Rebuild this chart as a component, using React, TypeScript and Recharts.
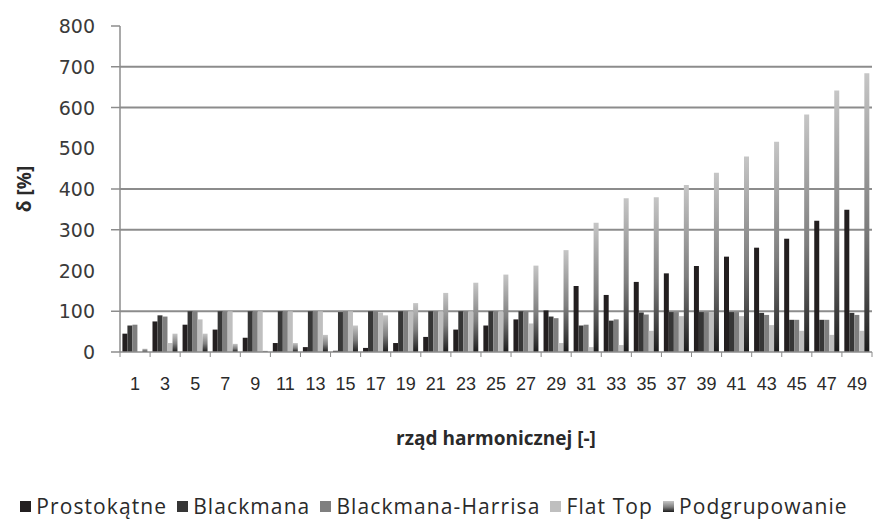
import React from 'react';
import { BarChart, Bar, XAxis, YAxis, CartesianGrid, Legend, Label } from 'recharts';

const harmonics = ['1', '3', '5', '7', '9', '11', '13', '15', '17', '19', '21', '23', '25', '27', '29', '31', '33', '35', '37', '39', '41', '43', '45', '47', '49'];
const prostokatne = [45, 75, 67, 55, 35, 22, 12, 3, 10, 22, 37, 55, 65, 80, 102, 162, 140, 172, 193, 211, 234, 256, 278, 322, 349];
const blackmana = [65, 90, 100, 100, 100, 100, 100, 98, 100, 100, 100, 100, 100, 100, 87, 65, 77, 97, 98, 98, 98, 96, 79, 79, 96];
const blackmanaHarrisa = [67, 87, 100, 100, 100, 100, 100, 100, 100, 100, 100, 100, 100, 100, 83, 67, 80, 92, 98, 98, 98, 91, 79, 79, 91];
const flatTop = [0, 22, 80, 100, 100, 100, 100, 100, 97, 100, 100, 100, 100, 70, 22, 12, 17, 52, 88, 98, 88, 66, 52, 42, 52];
const podgrupowanie = [8, 45, 45, 20, 3, 22, 42, 65, 90, 120, 145, 170, 190, 212, 250, 317, 377, 380, 410, 440, 480, 516, 583, 642, 684];

const seriesNames = ['Prostokątne', 'Blackmana', 'Blackmana-Harrisa', 'Flat Top', 'Podgrupowanie'];
const seriesKeys = ['p', 'b', 'bh', 'ft', 'pg'];
const seriesColors = ['#231f20', '#363636', '#7f7f7f', '#bfbfbf', 'url(#podGrad)'];
const yTicks = [0, 100, 200, 300, 400, 500, 600, 700, 800];
const gridValues = [100, 300, 400, 600, 700];
const yTickMarkValues = [0, 100, 300, 400, 600, 700, 800];

const data = harmonics.map((h, i) => ({
  h,
  p: prostokatne[i],
  b: blackmana[i],
  bh: blackmanaHarrisa[i],
  ft: flatTop[i],
  pg: podgrupowanie[i],
}));

const AXIS = '#8c8c8c';
const HALF_BAND = 15.04;

const YTick = (props: any) => {
  const { x, y, payload } = props;
  const showMark = yTickMarkValues.includes(payload.value);
  return (
    <g>
      {showMark && <line x1={x + 16} x2={x + 25} y1={y} y2={y} stroke={AXIS} strokeWidth={1.5} />}
      <text x={x} y={y} dy={7} textAnchor="end" fontFamily="DejaVu Sans" fontSize={19} fill="#3a3a3a">
        {payload.value}
      </text>
    </g>
  );
};

const XTick = (props: any) => {
  const { x, y, payload, index } = props;
  return (
    <g>
      <line x1={x - HALF_BAND} x2={x - HALF_BAND} y1={y} y2={y + 5} stroke={AXIS} strokeWidth={1} />
      {index === harmonics.length - 1 && (
        <line x1={x + HALF_BAND} x2={x + HALF_BAND} y1={y} y2={y + 5} stroke={AXIS} strokeWidth={1} />
      )}
      <text x={x} y={y} dy={38} textAnchor="middle" fontFamily="Liberation Sans" fontSize={18} fill="#2a2a2a">
        {payload.value}
      </text>
    </g>
  );
};

const YLabel = (props: any) => {
  const vb = props.viewBox || { y: 26, height: 326 };
  const cy = vb.y + vb.height / 2;
  return (
    <text x={31} y={cy} transform={`rotate(-90, 31, ${cy})`} textAnchor="middle" fontFamily="Open Sans" fontWeight="bold" fontSize={19} fill="#2a2a2a">
      δ [%]
    </text>
  );
};

const renderLegend = () => (
  <div style={{ display: 'flex', justifyContent: 'center', alignItems: 'flex-end', height: 40, paddingLeft: 6 }}>
    {seriesNames.map((name, i) => (
      <div key={name} style={{ display: 'flex', alignItems: 'center', marginRight: 10 }}>
        <svg width={11} height={11} style={{ marginRight: 5 }}>
          <rect x={0} y={0} width={11} height={11} fill={seriesColors[i]} />
        </svg>
        <span style={{ fontFamily: 'Open Sans', fontSize: 21, letterSpacing: 1.1, color: '#2a2a2a', lineHeight: '30px' }}>
          {name}
        </span>
      </div>
    ))}
  </div>
);

export default function App() {
  return (
    <div style={{ position: 'absolute', left: 0, top: 0, width: 874, height: 521, background: '#fff' }}>
      <BarChart
        width={874}
        height={521}
        data={data}
        margin={{ top: 26, right: 2, left: 0, bottom: 0 }}
        barCategoryGap="8%"
        barGap={0}
      >
        <defs>
          <linearGradient id="podGrad" x1="0" y1="0" x2="0" y2="1">
            <stop offset="0%" stopColor="#c6c6c6" />
            <stop offset="55%" stopColor="#7e7e7e" />
            <stop offset="100%" stopColor="#1c1c1c" />
          </linearGradient>
        </defs>
        <CartesianGrid vertical={false} horizontalValues={gridValues} stroke={AXIS} strokeWidth={2} />
        <XAxis
          dataKey="h"
          interval={0}
          tickSize={0}
          tickMargin={0}
          height={129}
          tick={<XTick />}
          axisLine={{ stroke: AXIS, strokeWidth: 1.5 }}
          tickLine={false}
        >
          <Label
            value="rząd harmonicznej [-]"
            position="insideBottom"
            offset={36}
            style={{ fontFamily: 'Open Sans', fontWeight: 'bold', fontSize: 19, fill: '#2a2a2a' }}
          />
        </XAxis>
        <YAxis
          width={120}
          domain={[0, 800]}
          ticks={yTicks}
          interval={0}
          tickSize={9}
          tickMargin={16}
          tick={<YTick />}
          tickLine={false}
          axisLine={{ stroke: AXIS, strokeWidth: 1.5 }}
        >
          <Label content={<YLabel />} />
        </YAxis>
        <Legend verticalAlign="bottom" content={renderLegend} wrapperStyle={{ height: 40 }} />
        {seriesKeys.map((k, i) => (
          <Bar key={k} dataKey={k} name={seriesNames[i]} fill={seriesColors[i]} isAnimationActive={false} />
        ))}
      </BarChart>
    </div>
  );
}
